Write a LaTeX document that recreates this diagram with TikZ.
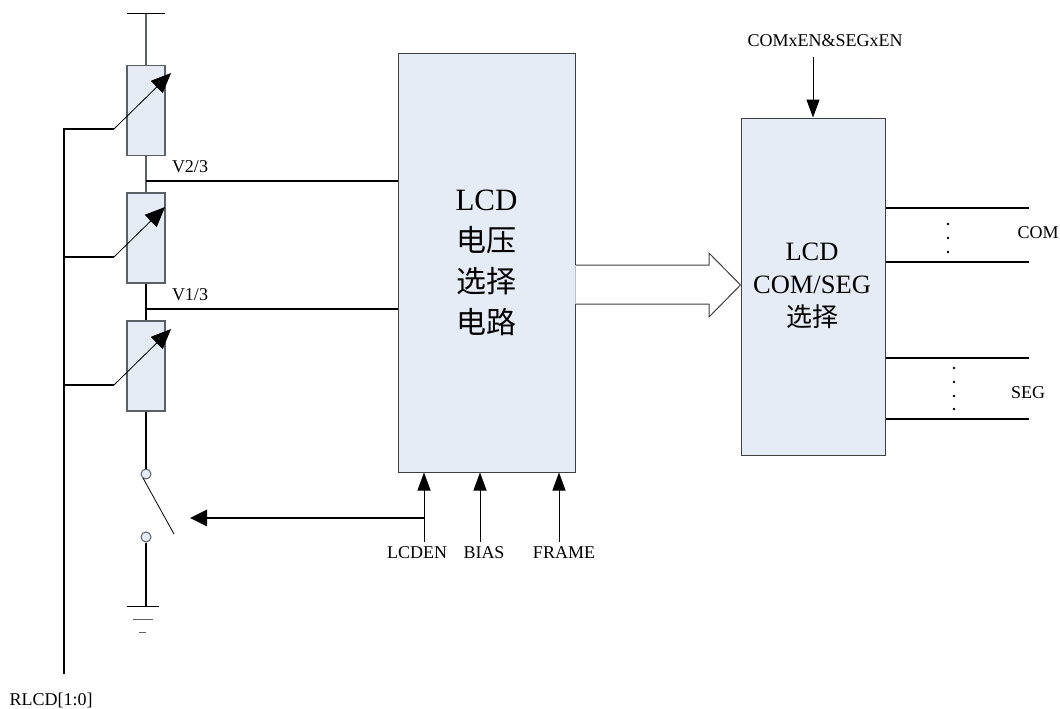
\documentclass[tikz,border=0pt]{standalone}
\usepackage{fontspec}
\setmainfont{Liberation Serif}
\newfontfamily\cjk{Noto Sans CJK SC}
\usetikzlibrary{arrows.meta,positioning}
\definecolor{boxfill}{HTML}{E6ECF6}
\definecolor{boxedge}{HTML}{5A6065}
\begin{document}
\begin{tikzpicture}[
        x=1pt, y=-1pt,
        box/.style={draw=boxedge, fill=boxfill, line width=1pt, inner sep=0pt, align=center},
        res/.style={box, line width=1.2pt, minimum width=38pt, minimum height=90pt},
        pin/.style={draw=boxedge, fill=boxfill, circle, line width=1pt, inner sep=0pt, minimum size=10pt},
        label/.style={inner sep=0pt, font=\fontsize{18}{20}\selectfont},
        thin wire/.style={draw=boxedge, line width=1.2pt},
        bus/.style={line width=2.9pt},
        tap/.style={-{Triangle[length=20pt,width=17pt]}, line width=.8pt},
        arrow/.style={-{Triangle[length=18pt,width=13pt]}, line width=1pt},
        dot/.style={circle, fill=black, inner sep=0pt, minimum size=2.8pt}
    ]
        \useasboundingbox (0,0) rectangle (1060,709);

        % resistor ladder
        \node[res] (rone) at (146,110.5) {};
        \node[res] (rtwo) at (146,238) {};
        \node[res] (rthree) at (146,366) {};
        \node[pin] (swtop) at (146,474) {};
        \node[pin] (swbot) at (146,537) {};
        \coordinate (railc) at (146,14);
        \coordinate (raill) at (127,14);
        \coordinate (railr) at (165,14);
        \coordinate (gnd) at (146,606);

        \draw[thin wire] (rone.north) -- (railc);
        \draw[line width=1pt] (raill) -- (railr);
        \draw[thin wire] (rone.south) -- (rtwo.north);
        \draw[bus] (rtwo.south) -- (rthree.north);
        \draw[bus] (rthree.south) -- (swtop.north);
        \draw[bus] (swbot.south) -- (gnd);

        % ground
        \draw[line width=1pt] (127,606) -- (159,606);
        \draw[draw=boxedge, line width=1pt] (133,619) -- (153,619);
        \draw[draw=boxedge, line width=1pt] (139,632) -- (146,632);

        % switch blade
        \coordinate (bladea) at (143,478);
        \coordinate (bladeb) at (174,534);
        \draw[line width=.8pt] (bladea) -- (bladeb);

        % main blocks
        \node[box, minimum width=177pt, minimum height=418pt, draw=black!75] (vsel) at (486.5,263) {};
        \node[box, minimum width=144pt, minimum height=337pt, draw=black!75] (comseg) at (813,286.5) {};
        \node[inner sep=0pt, align=center, font=\fontsize{31}{41}\selectfont] (vseltext) at (486.5,263) {LCD\\{\cjk\fontsize{30}{41}\selectfont 电压}\\{\cjk\fontsize{30}{41}\selectfont 选择}\\{\cjk\fontsize{30}{41}\selectfont 电路}};
        \node[inner sep=0pt, align=center, font=\fontsize{26.5}{33}\selectfont] (comsegtext) at (812,286) {LCD\\COM/SEG\\{\cjk\fontsize{26}{33}\selectfont 选择}};

        % bus with taps
        \coordinate (bustop) at (64,129);
        \coordinate (busend) at (64,674);
        \coordinate (tapone) at (114,129);
        \coordinate (taptwo) at (114,257);
        \coordinate (tapthree) at (114,385);
        \coordinate (bustwo) at (64,257);
        \coordinate (busthree) at (64,385);
        \draw[bus] (tapone) -- (bustop) -- (busend);
        \draw[bus] (bustwo) -- (taptwo);
        \draw[bus] (busthree) -- (tapthree);
        \draw[tap] (tapone) -- (171,73);
        \draw[tap] (taptwo) -- (165,207);
        \draw[tap] (tapthree) -- (171,329);

        % voltage taps
        \coordinate (vtwo) at (146,181);
        \coordinate (vone) at (146,309);
        \draw[line width=2.4pt] (vtwo) -- (vtwo -| vsel.west);
        \draw[line width=2.4pt] (vone) -- (vone -| vsel.west);
        \node[label] (vtwotext) at (190,167) {V2/3};
        \node[label] (vonetext) at (190,295) {V1/3};

        % wide arrow between the blocks
        \fill[white] (vsel.east |- 0,265) -- (709,265) -- (709,253) -- (comseg.west |- 0,285) -- (709,317) -- (709,304) -- (vsel.east |- 0,304) -- cycle;
        \draw[black!75, line width=1pt] (vsel.east |- 0,265) -- (709,265) -- (709,253) -- (comseg.west |- 0,285) -- (709,317) -- (709,304) -- (vsel.east |- 0,304);
        \draw[white!75!black, line width=1pt] (vsel.east |- 0,265) -- (vsel.east |- 0,304);

        % control inputs
        \node[label] (lcden) at (417,553) {LCDEN};
        \node[label] (bias) at (484,553) {BIAS};
        \node[label] (frame) at (564,553) {FRAME};
        \coordinate (lcdenin) at (424,542);
        \coordinate (biasin) at (480,542);
        \coordinate (framein) at (559,542);
        \draw[arrow] (lcdenin) -- (lcdenin |- vsel.south);
        \draw[arrow] (biasin) -- (biasin |- vsel.south);
        \draw[arrow] (framein) -- (framein |- vsel.south);
        \coordinate (swctl) at (424,518);
        \coordinate (swtip) at (190,518);
        \draw[-{Triangle[length=17pt,width=16pt]}, line width=2.9pt] (swctl) -- (swtip);

        \node[label] (enable) at (825,41) {COMxEN\&SEGxEN};
        \coordinate (enablein) at (813,57);
        \draw[arrow] (enablein) -- (enablein |- comseg.north);

        % outputs
        \coordinate (coma) at (1029,208);
        \coordinate (comb) at (1029,262);
        \coordinate (sega) at (1029,358);
        \coordinate (segb) at (1029,419);
        \draw[bus] (coma -| comseg.east) -- (coma);
        \draw[bus] (comb -| comseg.east) -- (comb);
        \draw[bus] (sega -| comseg.east) -- (sega);
        \draw[bus] (segb -| comseg.east) -- (segb);
        \foreach \y in {224,238,252} \node[dot] at (948,\y) {};
        \foreach \y in {368,382,396,409} \node[dot] at (954,\y) {};
        \node[label] (comtext) at (1038,233) {COM};
        \node[label] (segtext) at (1028,393) {SEG};

        \node[label] (rlcd) at (51,700) {RLCD[1:0]};
    \end{tikzpicture}
\end{document}
